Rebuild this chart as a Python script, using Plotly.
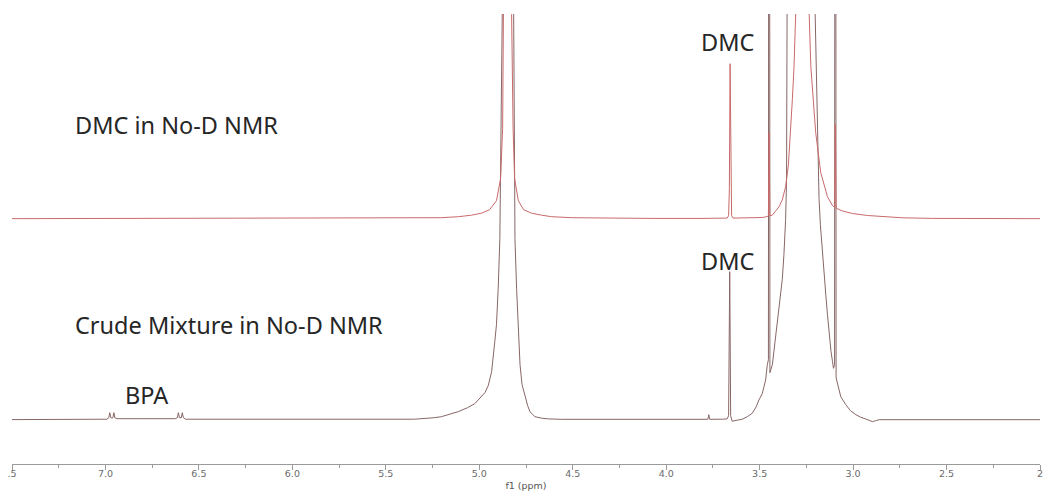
import plotly.graph_objects as go

# ---------------- data ----------------
# Upper spectrum: "DMC in No-D NMR"  (ppm, intensity above its own baseline)
dmc_ppm = [7.60, 5.417, 5.203, 5.111, 5.042, 4.988, 4.945, 4.908, 4.886, 4.875, 4.868,
           4.849,
           4.827, 4.819, 4.811, 4.791, 4.763, 4.720, 4.666, 4.613, 4.505, 4.291, 4.076,
           3.808, 3.700,
           3.674, 3.666, 3.662, 3.658, 3.654, 3.650, 3.642,
           3.566, 3.486, 3.464, 3.453, 3.449, 3.445, 3.432,
           3.396, 3.379, 3.361, 3.346, 3.334, 3.325, 3.316, 3.307,
           3.271,
           3.235, 3.226, 3.215, 3.200, 3.173, 3.137, 3.110,
           3.099, 3.095, 3.091,
           3.057, 3.003, 2.923, 2.842, 2.735, 2.574, 1.90]
dmc_int = [0, 0.4, 1, 2, 3.5, 5.5, 9, 18, 40, 90, 204,
           800,
           204, 90, 40, 18, 9, 5.5, 3.5, 2, 1, 0.5, 0.3,
           0.3, 0.4,
           0.6, 3, 30, 155, 30, 3, 0.6,
           0.8, 1.2, 2, 2.5, 86, 3, 3.5,
           12, 18.7, 32, 54, 86, 119, 152, 205,
           1000,
           205, 152, 119, 86, 46, 22, 13,
           11.5, 94, 10.5,
           7.7, 5.2, 3.2, 1.9, 0.9, 0.3, 0]

# Lower spectrum: "Crude Mixture in No-D NMR"
crude_ppm = [7.60, 7.05, 6.992, 6.982, 6.977, 6.971, 6.966, 6.960, 6.955, 6.950, 6.938,
             6.80, 6.627, 6.615, 6.610, 6.604, 6.599, 6.594, 6.589, 6.583, 6.571,
             6.00, 5.525, 5.346, 5.239, 5.203, 5.113, 5.063, 5.024, 4.999, 4.970, 4.952,
             4.934, 4.917, 4.908, 4.899, 4.890, 4.877,
             4.847,
             4.816, 4.809, 4.800, 4.791, 4.782, 4.771, 4.756, 4.741, 4.729, 4.715, 4.702,
             4.666, 4.630, 4.559,
             3.808, 3.777, 3.772, 3.767, 3.700,
             3.674, 3.666, 3.660, 3.655, 3.647, 3.620, 3.593,
             3.566, 3.540, 3.518, 3.504, 3.486, 3.468, 3.459,
             3.453, 3.449, 3.445,
             3.432, 3.415, 3.400, 3.388, 3.379, 3.370, 3.361, 3.356, 3.352, 3.343,
             3.273,
             3.203, 3.191, 3.182, 3.175, 3.168, 3.164, 3.156, 3.146, 3.137, 3.128,
             3.118, 3.110, 3.105,
             3.099, 3.095, 3.091,
             3.084, 3.066, 3.039, 3.014, 2.985, 2.960, 2.932, 2.912, 2.896, 2.880,
             2.860, 1.90]
crude_int = [0, 0, 0.5, 2, 7, 2, 1.6, 2, 7, 2, 1,
             1, 1, 2, 7, 2, 1.6, 2, 7, 2, 0.5,
             0.2, 0.3, 0.5, 2, 3, 8, 12, 16, 21, 27, 34,
             48, 78, 95, 130, 180, 406,
             3000,
             406, 180, 130, 90, 55, 35, 23, 14, 8, 5, 3,
             1.5, 0.8, 0.4,
             0.3, 0.4, 5, 0.4, 0.5,
             0.8, 4, 148, 4, -1.5, -0.5, 0.5,
             3, 6.4, 13, 19.7, 26, 39.7, 55,
             60, 1500, 47,
             55, 82, 105, 120, 140, 165, 200, 240, 286, 406,
             5000,
             406, 286, 220, 195, 180, 170, 150, 125, 105, 86,
             68, 58, 51.4,
             55, 1500, 42,
             36, 23, 15, 9, 5, 2.5, 0.7, -1, -2, -1,
             0, 0]

tick_vals = [7.5, 7.0, 6.5, 6.0, 5.5, 5.0, 4.5, 4.0, 3.5, 3.0, 2.5, 2.0]
tick_text = [".5", "7.0", "6.5", "6.0", "5.5", "5.0", "4.5", "4.0", "3.5", "3.0", "2.5", "2"]

# ---------------- layout constants ----------------
UPPER_OFFSET = 201          # vertical stacking offset of the upper spectrum
RED = "#c96a6a"
BROWN = "#886666"
TEXT = "#262626"
AXIS_GREY = "#9a9a9a"

fig = go.Figure()
fig.add_trace(go.Scatter(x=crude_ppm, y=crude_int, mode="lines",
                         line=dict(color=BROWN, width=1), hoverinfo="skip",
                         showlegend=False, cliponaxis=True))
fig.add_trace(go.Scatter(x=dmc_ppm, y=[v + UPPER_OFFSET for v in dmc_int], mode="lines",
                         line=dict(color=RED, width=1), hoverinfo="skip",
                         showlegend=False, cliponaxis=True))

label_font = dict(family="Noto Sans, Open Sans, sans-serif", size=23.5, color=TEXT)
annots = [
    ("DMC in No-D NMR", 7.168, 295.0),
    ("DMC", 3.819, 378.0),
    ("Crude Mixture in No-D NMR", 7.168, 95.0),
    ("DMC", 3.819, 159.0),
    ("BPA", 6.901, 24.5),
]
for txt, ax_x, ax_y in annots:
    fig.add_annotation(text=txt, x=ax_x, y=ax_y, xref="x", yref="y",
                       xanchor="left", yanchor="middle", showarrow=False,
                       font=label_font, borderpad=0)

fig.update_layout(
    width=1049, height=496,
    margin=dict(l=12, r=9, t=14, b=32, autoexpand=False),
    paper_bgcolor="white", plot_bgcolor="white",
    xaxis=dict(
        range=[7.5, 2.0], showgrid=False, zeroline=False, automargin=False,
        showline=True, linecolor=AXIS_GREY, linewidth=1,
        ticks="outside", ticklen=5, tickcolor=AXIS_GREY, tickwidth=1,
        tickvals=tick_vals, ticktext=tick_text, ticklabelstandoff=-4,
        tickfont=dict(family="DejaVu Sans", size=9.5, color="#6a6a6a"),
        minor=dict(dtick=0.25, tick0=0, ticks="outside", ticklen=3,
                   tickcolor=AXIS_GREY, showgrid=False),
        title=dict(text="f1 (ppm)", standoff=3,
                   font=dict(family="DejaVu Sans", size=9.5, color="#555555")),
    ),
    yaxis=dict(range=[-44.3, 405.7], visible=False, showgrid=False, zeroline=False,
               automargin=False),
)

fig.write_html("out.html")
